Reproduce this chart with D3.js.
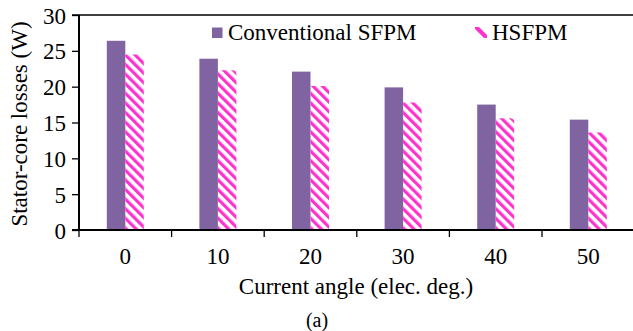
<!doctype html>
<html>
<head>
<meta charset="UTF-8">
<title>Stator-core losses</title>
<script src="https://d3js.org/d3.v7.min.js"></script>
<style>
  body { margin: 0; background: #fff; }
  text { font-family: "Liberation Serif", "Times New Roman", serif; fill: #000; }
</style>
</head>
<body>
<script>
// data
var angles = ["0", "10", "20", "30", "40", "50"];
var seriesNames = ["Conventional SFPM", "HSFPM"];
var conventional = [26.4, 23.9, 22.1, 19.9, 17.5, 15.4];
var hsfpm = [24.5, 22.3, 20.1, 17.8, 15.6, 13.6];
var yTicks = [0, 5, 10, 15, 20, 25, 30];

var w = 633, h = 331;
var padLeft = 79, padRight = 634.6, padTop = 15, padBottom = 230;

var svg = d3.select("body").append("svg")
    .attr("width", w)
    .attr("height", h);

// hatch pattern for the second series
var defs = svg.append("defs");
defs.append("pattern")
    .attr("id", "hatch")
    .attr("patternUnits", "userSpaceOnUse")
    .attr("width", 6.8)
    .attr("height", 6.8)
    .attr("patternTransform", "rotate(-45)")
    .append("rect")
    .attr("width", 3.2)
    .attr("height", 6.8)
    .attr("fill", "#ff33cc");

var x = d3.scaleBand().domain(angles).range([padLeft, padRight]);
var xs = d3.scaleBand().domain(seriesNames).range([0, 37]);
var y = d3.scaleLinear().domain([0, 30]).range([padBottom, padTop]);

var rows = angles.map(function(a, i) {
    return {angle: a, vals: [conventional[i], hsfpm[i]]};
});

// bars
var groups = svg.selectAll("g.grp")
    .data(rows)
    .enter().append("g")
    .attr("class", "grp")
    .attr("transform", function(d) {
        return "translate(" + (x(d.angle) + x.bandwidth() / 2 - 18.5) + ",0)";
    });

groups.append("rect")
    .attr("x", xs(seriesNames[0]))
    .attr("y", function(d) { return y(d.vals[0]); })
    .attr("width", xs.bandwidth())
    .attr("height", function(d) { return padBottom - y(d.vals[0]); })
    .attr("fill", "#8064a2");

groups.append("path")
    .attr("d", function(d) {
        var x0 = xs(seriesNames[1]), x1 = x0 + xs.bandwidth();
        var yt = y(d.vals[1]), r = 4;
        return "M" + x0 + "," + padBottom + "V" + yt + "H" + (x1 - r) +
            "Q" + x1 + "," + yt + " " + x1 + "," + (yt + r) + "V" + padBottom + "Z";
    })
    .attr("fill", "url(#hatch)");

// axes
var yAxis = d3.axisLeft(y).tickValues(yTicks).tickSize(7).tickPadding(6);
var gy = svg.append("g").attr("transform", "translate(" + padLeft + ",0)").call(yAxis);
gy.select(".domain").remove();
gy.selectAll("line").attr("stroke", "#000").attr("stroke-width", 1.3);
gy.selectAll("text").attr("font-size", 23).attr("font-family", "Liberation Serif").attr("dy", "0.35em");

svg.append("line").attr("x1", padLeft).attr("x2", padLeft).attr("y1", padTop).attr("y2", padBottom)
    .attr("stroke", "#000").attr("stroke-width", 2);
svg.append("line").attr("x1", padLeft - 7).attr("x2", w).attr("y1", padTop).attr("y2", padTop)
    .attr("stroke", "#000").attr("stroke-width", 1.3);

var xAxis = d3.axisBottom(x).tickSize(0).tickPadding(18);
var gx = svg.append("g").attr("transform", "translate(0," + padBottom + ")").call(xAxis);
gx.select(".domain").remove();
gx.selectAll("text").attr("font-size", 23).attr("font-family", "Liberation Serif");

// category boundary ticks
svg.selectAll("line.sep")
    .data(angles)
    .enter().append("line")
    .attr("class", "sep")
    .attr("x1", function(d) { return x(d); })
    .attr("x2", function(d) { return x(d); })
    .attr("y1", padBottom)
    .attr("y2", padBottom + 7)
    .attr("stroke", "#000")
    .attr("stroke-width", 1.3);

svg.append("line").attr("x1", padLeft - 7).attr("x2", w).attr("y1", padBottom).attr("y2", padBottom)
    .attr("stroke", "#000").attr("stroke-width", 2);

// titles
svg.append("text")
    .attr("x", 356).attr("y", 294)
    .attr("text-anchor", "middle").attr("font-size", 23)
    .text("Current angle (elec. deg.)");

svg.append("text")
    .attr("x", 317).attr("y", 327)
    .attr("text-anchor", "middle").attr("font-size", 20)
    .text("(a)");

svg.append("text")
    .attr("transform", "translate(27,124) rotate(-90)")
    .attr("text-anchor", "middle").attr("font-size", 23)
    .text("Stator-core losses (W)");

// legend
var legend = svg.append("g");
legend.append("rect").attr("x", 212).attr("y", 27.5).attr("width", 10.5).attr("height", 10.5)
    .attr("fill", "#8064a2");
legend.append("text").attr("x", 228).attr("y", 40).attr("font-size", 23).text(seriesNames[0]);
legend.append("path")
    .attr("d", "M475,27 L479,27 L487,35 L487,38 L484,38 L475,29 Z")
    .attr("fill", "#ff33cc");
legend.append("text").attr("x", 492).attr("y", 40).attr("font-size", 23).text(seriesNames[1]);
</script>
</body>
</html>
